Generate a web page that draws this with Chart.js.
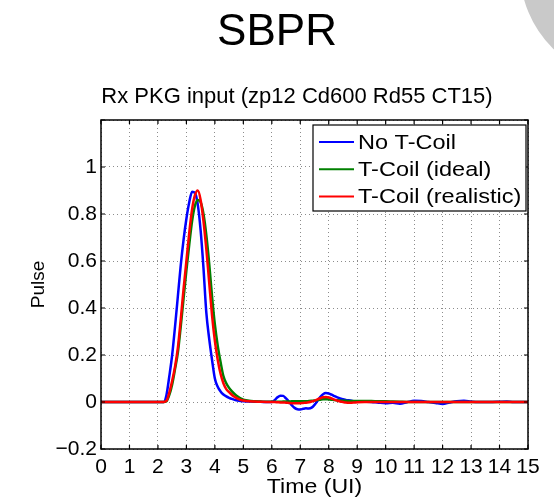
<!DOCTYPE html>
<html lang="en">
<head>
<meta charset="UTF-8">
<title>SBPR - Rx PKG input</title>
<script src="https://cdn.jsdelivr.net/npm/chart.js"></script>
<style>
  html, body { margin: 0; padding: 0; background: #fff; }
  canvas { display: block; }
</style>
</head>
<body>
<canvas id="pulseChart" width="554" height="501"></canvas>
<script>
// sample times (UI), denser around the pulse and ripples
const timeUI = [0, 1, 2,
  2.2, 2.3, 2.4, 2.5, 2.6, 2.7, 2.8, 2.9, 3.0, 3.1, 3.2, 3.3, 3.4, 3.5, 3.6, 3.7, 3.8, 3.9,
  4.0, 4.1, 4.2, 4.3, 4.4, 4.5, 4.6, 4.7, 4.8, 4.9, 5.0, 5.2, 5.4, 5.6, 5.8,
  6.0, 6.1, 6.2, 6.3, 6.4, 6.5, 6.6, 6.7, 6.8, 6.9, 7.0, 7.1, 7.2, 7.3, 7.4, 7.5, 7.6, 7.7, 7.8, 7.9,
  8.0, 8.1, 8.2, 8.3, 8.4, 8.5, 8.6, 8.7, 8.8, 8.9, 9.0,
  9.25, 9.5, 9.75, 10.0, 10.25, 10.5, 10.75, 11.0, 11.25, 11.5, 11.75, 12.0, 12.25, 12.5, 12.75,
  13.0, 13.25, 13.5, 13.75, 14.0, 14.25, 14.5, 14.75, 15.0];

const noTCoil = [0, 0, 0,
  0, 0.03, 0.11, 0.2, 0.32, 0.45, 0.58, 0.69, 0.78, 0.85, 0.895, 0.89, 0.84, 0.73, 0.57, 0.38, 0.27, 0.18,
  0.1, 0.065, 0.045, 0.032, 0.024, 0.018, 0.013, 0.009, 0.006, 0.004, 0.003, 0.002, 0.001, 0.001, 0,
  0, 0.008, 0.02, 0.027, 0.026, 0.015, 0.002, -0.013, -0.025, -0.031, -0.032, -0.029, -0.027, -0.028, -0.024, -0.012, 0.004, 0.021, 0.033, 0.038,
  0.036, 0.031, 0.025, 0.02, 0.015, 0.012, 0.009, 0.007, 0.005, 0.003, 0.002,
  0.001, 0, -0.003, -0.005, -0.003, -0.007, -0.001, 0.005, 0.004, 0, -0.004, -0.008, -0.002, 0.003, 0.005,
  0.002, 0, 0, 0, 0.001, 0.002, 0, 0, 0];

const tCoilIdeal = [0, 0, 0,
  0, 0.003, 0.03, 0.075, 0.14, 0.21, 0.32, 0.44, 0.56, 0.67, 0.77, 0.835, 0.86, 0.85, 0.8, 0.71, 0.59, 0.45,
  0.33, 0.24, 0.17, 0.11, 0.08, 0.06, 0.045, 0.033, 0.023, 0.015, 0.01, 0.005, 0.003, 0.002, 0.001,
  0.001, 0.001, 0.001, 0.001, 0.002, 0.002, 0.002, 0.003, 0.003, 0.003, 0.003, 0.003, 0.003, 0.004, 0.005, 0.006, 0.008, 0.01, 0.012, 0.012,
  0.011, 0.01, 0.008, 0.007, 0.006, 0.005, 0.005, 0.004, 0.004, 0.004, 0.004,
  0.004, 0.004, 0.003, 0.003, 0.002, 0.001, 0, 0, 0, 0, 0, 0, 0, 0, 0,
  0, 0, 0, 0, 0, 0, 0, 0, 0];

const tCoilRealistic = [0, 0, 0,
  0, 0.005, 0.04, 0.09, 0.15, 0.23, 0.35, 0.48, 0.6, 0.72, 0.82, 0.88, 0.9, 0.86, 0.77, 0.65, 0.51, 0.37,
  0.26, 0.18, 0.12, 0.08, 0.055, 0.042, 0.03, 0.021, 0.014, 0.009, 0.006, 0.003, 0.002, 0.001, 0,
  0, 0, -0.001, -0.002, -0.002, -0.003, -0.004, -0.005, -0.005, -0.005, -0.005, -0.004, -0.003, -0.001, 0.002, 0.006, 0.011, 0.016, 0.02, 0.021,
  0.019, 0.015, 0.01, 0.006, 0.002, 0, -0.002, -0.003, -0.003, -0.002, -0.001,
  0, 0, 0, 0, 0, 0, 0, 0, 0, 0, 0, 0, 0, 0, 0,
  0, 0, 0, 0, 0, 0, 0, 0, 0];

const seriesNames = ['No T-Coil', 'T-Coil (ideal)', 'T-Coil (realistic)'];
const seriesColors = ['#0000ff', '#008000', '#ff0000'];
const xTickLabels = ['0', '1', '2', '3', '4', '5', '6', '7', '8', '9', '10', '11', '12', '13', '14', '15'];
const yTickLabels = ['-0.2', '0', '0.2', '0.4', '0.6', '0.8', '1'];

const FONT = 'Liberation Sans, Arial, Helvetica, sans-serif';

function toPoints(values) {
    return values.map((v, i) => ({ x: timeUI[i], y: v }));
}

function drawText(ctx, txt, x, y, size, align, baseline, sx) {
    ctx.save();
    ctx.font = size + 'px ' + FONT;
    ctx.fillStyle = '#000';
    ctx.textAlign = align;
    ctx.textBaseline = baseline;
    ctx.translate(x, y);
    ctx.scale(sx || 1, 1);
    ctx.fillText(txt, 0, 0);
    ctx.restore();
}

// background, headings, frame, ticks and legend drawn MATLAB style
const matlabLook = {
    id: 'matlabLook',
    beforeDraw(chart) {
        const ctx = chart.ctx;
        ctx.save();
        ctx.fillStyle = '#fff';
        ctx.fillRect(0, 0, chart.width, chart.height);
        // grey slide decoration in the corner
        ctx.beginPath();
        ctx.arc(630, -30, 110, 0, Math.PI * 2);
        ctx.fillStyle = '#c9c9c9';
        ctx.fill();
        ctx.restore();
        drawText(ctx, 'SBPR', 277, 45, 44, 'center', 'alphabetic');
        drawText(ctx, 'Rx PKG input (zp12 Cd600 Rd55 CT15)', 297, 103, 22, 'center', 'alphabetic');
    },
    afterDatasetsDraw(chart) {
        const ctx = chart.ctx;
        const ca = chart.chartArea;
        const xs = chart.scales.x, ys = chart.scales.y;

        // axes box
        ctx.save();
        ctx.strokeStyle = '#000';
        ctx.lineWidth = 1.5;
        ctx.strokeRect(ca.left, ca.top, ca.right - ca.left, ca.bottom - ca.top);
        // inward ticks
        ctx.lineWidth = 1.2;
        ctx.beginPath();
        xs.ticks.forEach(t => {
            const px = xs.getPixelForValue(t.value);
            ctx.moveTo(px, ca.bottom); ctx.lineTo(px, ca.bottom - 4);
            ctx.moveTo(px, ca.top); ctx.lineTo(px, ca.top + 4);
        });
        ys.ticks.forEach(t => {
            const py = ys.getPixelForValue(t.value);
            ctx.moveTo(ca.left, py); ctx.lineTo(ca.left + 4, py);
            ctx.moveTo(ca.right, py); ctx.lineTo(ca.right - 4, py);
        });
        ctx.stroke();
        ctx.restore();

        // tick labels
        xs.ticks.forEach((t, i) => {
            if (xTickLabels[i] === undefined) return;
            drawText(ctx, xTickLabels[i], xs.getPixelForValue(t.value), ca.bottom + 18, 21, 'center', 'middle');
        });
        ys.ticks.forEach((t, i) => {
            if (yTickLabels[i] === undefined) return;
            const lab = yTickLabels[i].replace('-', '\u2212');
            drawText(ctx, lab, ca.left - 4, ys.getPixelForValue(t.value), 21, 'right', 'middle');
        });

        // axis titles
        drawText(ctx, 'Time (UI)', (ca.left + ca.right) / 2, ca.bottom + 44, 21, 'center', 'alphabetic', 1.1);
        ctx.save();
        ctx.translate(44, (ca.top + ca.bottom) / 2);
        ctx.rotate(-Math.PI / 2);
        drawText(ctx, 'Pulse', 0, 0, 19, 'center', 'alphabetic');
        ctx.restore();

        // legend box in the upper right corner
        const bx = ca.right - 215, by = ca.top + 5, bw = 213, bh = 86;
        ctx.save();
        ctx.fillStyle = '#fff';
        ctx.fillRect(bx, by, bw, bh);
        ctx.strokeStyle = '#000';
        ctx.lineWidth = 1.2;
        ctx.strokeRect(bx, by, bw, bh);
        chart.data.datasets.forEach((ds, i) => {
            const ry = by + 17 + i * 27.2;
            ctx.strokeStyle = ds.borderColor;
            ctx.lineWidth = 2;
            ctx.beginPath();
            ctx.moveTo(bx + 6, ry);
            ctx.lineTo(bx + 41, ry);
            ctx.stroke();
            drawText(ctx, ds.label, bx + 45, ry + 7, 21, 'left', 'alphabetic', 1.12);
        });
        ctx.restore();
    }
};

const zeroFit = scale => {
    if (scale.isHorizontal()) scale.height = 0; else scale.width = 0;
};

const ctx = document.getElementById('pulseChart').getContext('2d');
const pulseChart = new Chart(ctx, {
    type: 'line',
    data: {
        datasets: [
            { label: seriesNames[0], data: toPoints(noTCoil), borderColor: seriesColors[0], order: 3 },
            { label: seriesNames[1], data: toPoints(tCoilIdeal), borderColor: seriesColors[1], order: 2 },
            { label: seriesNames[2], data: toPoints(tCoilRealistic), borderColor: seriesColors[2], order: 1 }
        ].map(d => Object.assign(d, {
            fill: false,
            borderWidth: 2.5,
            pointRadius: 0,
            cubicInterpolationMode: 'monotone'
        }))
    },
    options: {
        responsive: false,
        animation: false,
        events: [],
        layout: { padding: { left: 101, right: 26, top: 120, bottom: 52 } },
        scales: {
            x: {
                type: 'linear',
                min: 0,
                max: 15,
                ticks: { display: false, stepSize: 1 },
                grid: { color: '#8c8c8c', lineWidth: 1, drawTicks: false },
                border: { display: false, dash: [1, 3] },
                afterFit: zeroFit
            },
            y: {
                type: 'linear',
                min: -0.2,
                max: 1.2,
                ticks: { display: false, stepSize: 0.2 },
                grid: { color: '#8c8c8c', lineWidth: 1, drawTicks: false },
                border: { display: false, dash: [1, 3] },
                afterFit: zeroFit
            }
        },
        plugins: {
            legend: { display: false },
            title: { display: false },
            tooltip: { enabled: false }
        }
    },
    plugins: [matlabLook]
});
</script>
</body>
</html>
